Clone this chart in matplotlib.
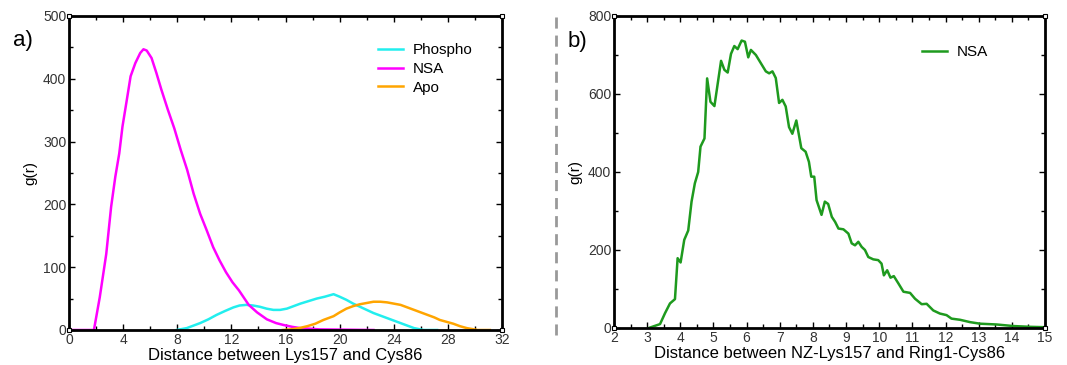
import numpy as np
import matplotlib
matplotlib.use("Agg")
from matplotlib import pyplot as plt
from matplotlib.lines import Line2D
from matplotlib.ticker import MultipleLocator

plt.rcParams['font.family'] = ['Liberation Sans', 'DejaVu Sans']

# Panel a) data
nsa_a_x = [0, 1.84, 2.27, 2.75, 3.11, 3.42, 3.71, 3.95, 4.23, 4.55, 4.90, 5.26,
           5.50, 5.74, 6.10, 6.46, 6.82, 7.30, 7.78, 8.25, 8.73, 9.21, 9.69,
           10.17, 10.65, 11.12, 11.60, 12.08, 12.56, 13.28, 13.9, 14.62, 15.3,
           15.85, 16.5, 17.1, 18.5, 22.5]
nsa_a_y = [0, 0, 52, 121, 196, 244, 281, 324, 361, 404, 425, 441,
           447, 445, 433, 409, 383, 351, 321, 287, 255, 217, 185,
           159, 132, 111, 92, 76, 63, 40, 28, 17, 11,
           8, 5, 3, 1, 0]

phospho_x = [7.96, 8.7, 9.69, 10.3, 10.9, 11.5, 12.15, 12.6, 13.1, 13.6, 14.1,
             14.6, 15.1, 15.6, 16.1, 16.6, 17.1, 17.7, 18.3, 18.9, 19.55, 20.0,
             20.5, 21.0, 21.5, 22.0, 22.5, 23.0, 23.5, 24.0, 24.5, 25.0, 25.5,
             26.2, 27.2]
phospho_y = [0, 3, 11, 17, 24, 30, 36, 39, 40, 39, 37,
             34, 32, 32, 34, 38, 42, 46, 50, 53, 57, 53,
             48, 42, 37, 32, 27, 23, 19, 15, 11, 7, 3,
             0, 0]

apo_x = [15.8, 16.35, 17.0, 17.6, 18.2, 18.8, 19.55, 20.0, 20.5, 21.0, 21.5,
         22.0, 22.5, 23.0, 23.5, 24.0, 24.5, 25.0, 25.5, 26.0, 26.5, 27.0,
         27.4, 27.9, 28.4, 28.9, 29.4, 30.2, 31.1]
apo_y = [0, 1, 3, 6, 10, 16, 22, 28, 34, 38, 41,
         43, 45, 45, 44, 42, 40, 36, 32, 28, 24, 20,
         16, 13, 10, 6, 3, 0, 0]

# Panel b) data
nsa_b_x = [3.05, 3.39, 3.54, 3.69, 3.84, 3.92, 4.01, 4.12, 4.24, 4.34, 4.44, 4.54,
           4.61, 4.73, 4.81, 4.91, 5.03, 5.13, 5.23, 5.33, 5.43, 5.53, 5.63, 5.73,
           5.85, 5.95, 6.05, 6.13, 6.28, 6.43, 6.58, 6.68, 6.78, 6.88, 6.98, 7.08,
           7.18, 7.28, 7.38, 7.5, 7.65, 7.78, 7.88, 7.95, 8.04, 8.11, 8.26, 8.36,
           8.46, 8.57, 8.67, 8.77, 8.92, 9.07, 9.17, 9.27, 9.37, 9.47, 9.57, 9.67,
           9.82, 9.97, 10.07, 10.14, 10.24, 10.34, 10.44, 10.58, 10.73, 10.93, 11.08,
           11.28, 11.43, 11.63, 11.83, 12.03, 12.18, 12.44, 12.74, 13.04, 13.54,
           14.04, 14.55, 15.0]
nsa_b_y = [0, 10, 38, 63, 74, 179, 168, 226, 250, 324, 371, 400,
           465, 486, 640, 580, 569, 627, 685, 662, 655, 703, 723, 715,
           737, 734, 694, 713, 700, 679, 658, 653, 658, 641, 577, 585,
           568, 515, 498, 532, 461, 452, 426, 388, 388, 328, 290, 324,
           318, 285, 272, 255, 253, 242, 217, 212, 221, 208, 200, 182,
           176, 174, 165, 135, 148, 129, 133, 114, 93, 90, 75,
           61, 62, 45, 37, 33, 24, 21, 15, 11, 9,
           5, 3, 2]

fig = plt.figure(figsize=(10.67, 3.65), dpi=100)
ax1 = fig.add_axes([0.0647, 0.0959, 0.4058, 0.8603])
ax2 = fig.add_axes([0.5754, 0.1014, 0.4040, 0.8548])

lw = 1.8
ax1.plot(phospho_x, phospho_y, color='#22EEEE', lw=lw, label='Phospho')
ax1.plot(nsa_a_x, nsa_a_y, color='#FF00FF', lw=lw, label='NSA')
ax1.plot(apo_x, apo_y, color='#FFA500', lw=lw, label='Apo')
ax1.set_xlim(0, 32)
ax1.set_ylim(0, 500)
ax1.xaxis.set_major_locator(MultipleLocator(4))
ax1.xaxis.set_minor_locator(MultipleLocator(2))
ax1.yaxis.set_major_locator(MultipleLocator(100))
ax1.yaxis.set_minor_locator(MultipleLocator(50))
ax1.set_xlabel('Distance between Lys157 and Cys86', fontsize=12, labelpad=1)
ax1.set_ylabel('g(r)', fontsize=11, labelpad=4)
ax1.legend(frameon=False, loc='upper left', bbox_to_anchor=(0.714, 0.914),
           borderaxespad=0, borderpad=0,
           fontsize=11, handlelength=1.65, handletextpad=0.6, labelspacing=0.32)

ax2.plot(nsa_b_x, nsa_b_y, color='#1E9A1E', lw=lw, label='NSA')
ax2.set_xlim(2, 15)
ax2.set_ylim(0, 800)
ax2.xaxis.set_major_locator(MultipleLocator(1))
ax2.xaxis.set_minor_locator(MultipleLocator(0.5))
ax2.yaxis.set_major_locator(MultipleLocator(200))
ax2.yaxis.set_minor_locator(MultipleLocator(100))
ax2.set_xlabel('Distance between NZ-Lys157 and Ring1-Cys86', fontsize=12, labelpad=1)
ax2.set_ylabel('g(r)', fontsize=11, labelpad=4)
ax2.legend(frameon=False, loc='upper left', bbox_to_anchor=(0.715, 0.907),
           borderaxespad=0, borderpad=0,
           fontsize=11, handlelength=1.65, handletextpad=0.6)

for ax in (ax1, ax2):
    for s in ax.spines.values():
        s.set_linewidth(2)
    ax.tick_params(which='both', direction='in', top=True, right=True,
                   labelsize=10, labelcolor='#333333', pad=2)
    ax.tick_params(which='major', length=4.5, width=1)
    ax.tick_params(which='minor', length=2.8, width=1)
    # little corner squares, grace style
    for cx in (0, 1):
        for cy in (0, 1):
            ax.plot(cx, cy, 's', ms=3, mfc='white', mec='black', mew=0.8,
                    transform=ax.transAxes, clip_on=False, zorder=5)

fig.text(0.012, 0.875, 'a)', fontsize=16)
fig.text(0.532, 0.872, 'b)', fontsize=16)
fig.add_artist(Line2D([0.521, 0.521], [0.953, 0.082], color='#999999', lw=2,
                      linestyle=(0, (4, 2.5))))

fig.savefig('out.png', dpi=100)
